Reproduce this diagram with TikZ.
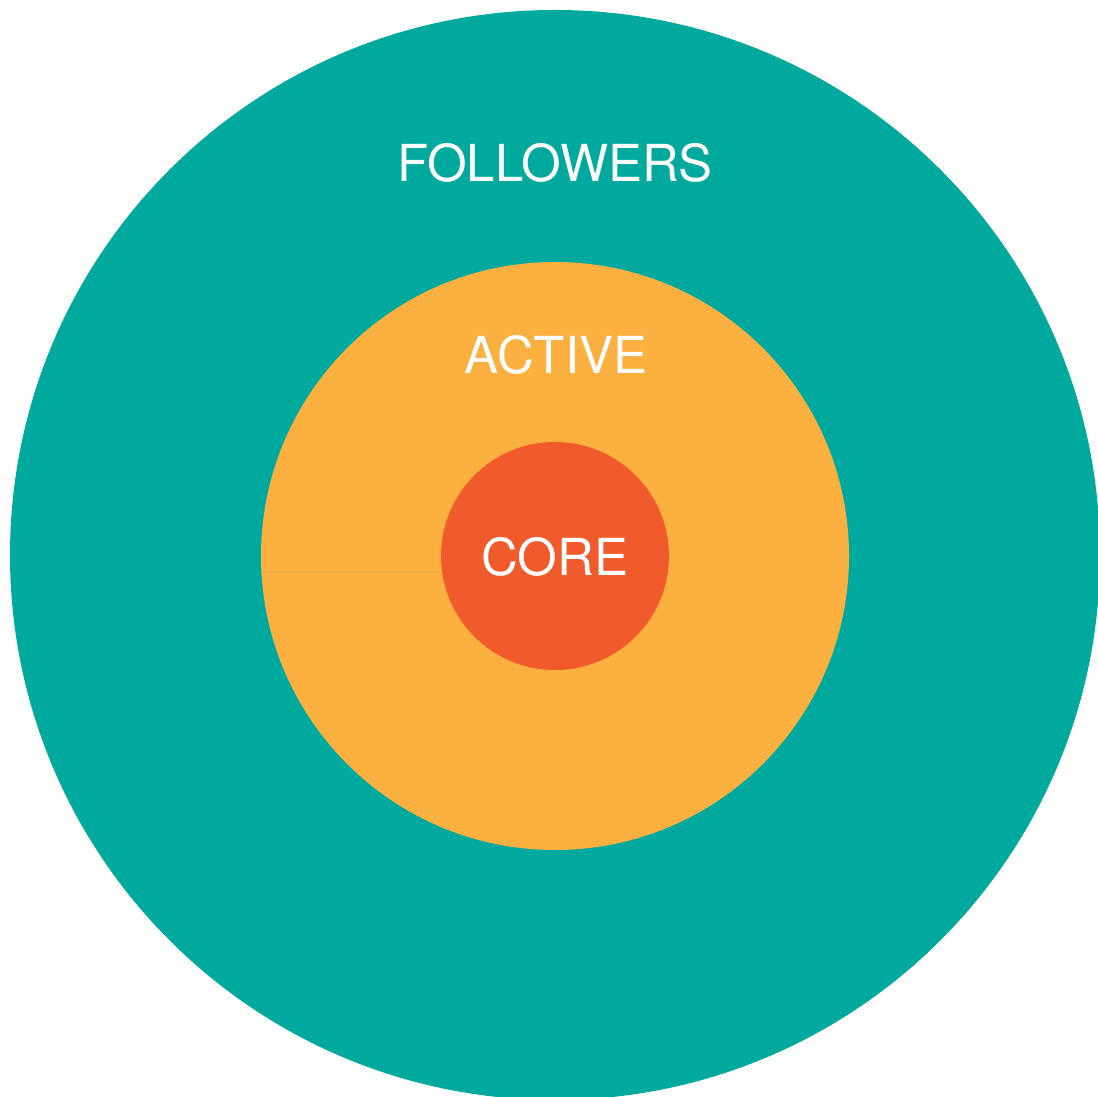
\documentclass[tikz,border=0pt]{standalone}
\usepackage{fontspec}
\setmainfont{TeX Gyre Heros}
\definecolor{tealc}{HTML}{00A99D}
\definecolor{orangec}{HTML}{FBB040}
\definecolor{redc}{HTML}{F15A2B}
\definecolor{seamc}{HTML}{E5AA52}
\tikzset{
  ring/.style={circle, inner sep=0pt, draw=none},
  lbl/.style={text=white, font=\fontsize{51}{51}\selectfont, inner sep=0pt, anchor=center}
}
\begin{document}
\begin{tikzpicture}[x=1pt,y=1pt]
\useasboundingbox (0,0) rectangle (1098,1097);
\clip (0,0) rectangle (1098,1097);
\node[ring, fill=tealc, minimum size=1090pt] (followers) at (555,542) {};
\node[ring, fill=orangec, minimum size=588pt] (active) at (555,541) {};
\node[ring, fill=redc, minimum size=228pt] (core) at (555,541) {};
\draw[seamc, line width=0.6pt] (active.west |- 0,526) -- (core.west |- 0,526);
\node[lbl] (tf) at (555,934) {FOLLOWERS};
\node[lbl] (ta) at (556,742) {ACTIVE};
\node[lbl] (tc) at (555,540) {CORE};
\end{tikzpicture}
\end{document}
